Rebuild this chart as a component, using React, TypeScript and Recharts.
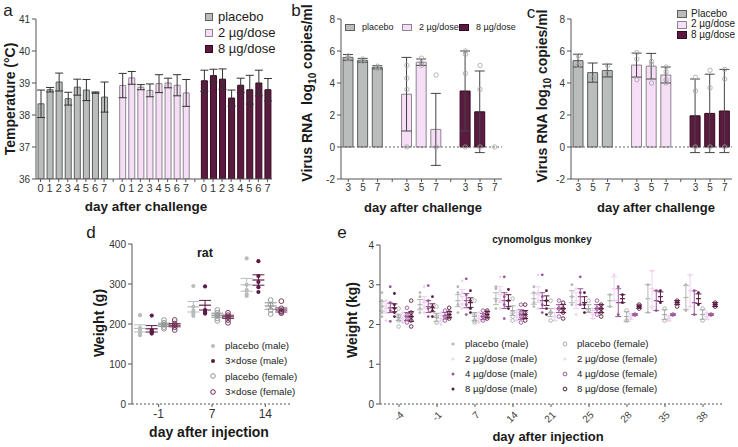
import React from "react"
import {
  BarChart, ComposedChart, ScatterChart, Bar, Line, Scatter, XAxis, YAxis,
  Cell, ErrorBar, ReferenceLine,
} from "recharts"

const FONT = '"Liberation Sans", Arial, Helvetica, sans-serif'
const AXIS = "#555"
const TICK = { fontSize: 10, fill: "#333", fontFamily: FONT }

// a: body temperature per day after challenge
const tempDays = [0, 1, 2, 3, 4, 5, 6, 7]
const tempPlacebo = [38.35, 38.79, 39.03, 38.51, 38.87, 38.78, 38.7, 38.56]
const tempPlaceboErr = [0.43, 0.07, 0.28, 0.2, 0.25, 0.33, 0.02, 0.47]
const temp2ug = [38.92, 39.16, 38.87, 38.77, 38.98, 39.0, 38.93, 38.69]
const temp2ugErr = [0.38, 0.2, 0.08, 0.2, 0.28, 0.15, 0.33, 0.42]
const temp8ug = [39.07, 39.23, 39.12, 38.53, 38.93, 38.79, 39.0, 38.79]
const temp8ugErr = [0.33, 0.2, 0.32, 0.25, 0.22, 0.45, 0.4, 0.35]

// b, c: viral RNA (log10 copies/ml)
const virusDays = [3, 5, 7]
const virusBPlacebo = [5.6, 5.42, 4.98]
const virusBPlaceboErr = [0.18, 0.12, 0.1]
const virusB2ug = [3.3, 5.3, 1.1]
const virusB2ugErr = [2.3, 0.2, 2.25]
const virusB8ug = [3.5, 2.2, 0]
const virusB8ugErr = [2.5, 2.55, 0]
const virusBPoints = [
  [[5.7, 5.55, 5.5], [5.5, 5.35], [5.05, 4.95, 4.9]],
  [[5.1, 4.3, 3.6, 0], [5.55, 5.25, 5.1], [4.5, 0]],
  [[6.0, 5.8, 4.6, 0], [5.1, 3.6, 0], [0]],
]
const virusCPlacebo = [5.4, 4.65, 4.78]
const virusCPlaceboErr = [0.4, 0.6, 0.4]
const virusC2ug = [5.12, 5.05, 4.5]
const virusC2ugErr = [0.75, 0.8, 0.5]
const virusC8ug = [1.95, 2.1, 2.25]
const virusC8ugErr = [2.3, 2.45, 2.6]
const virusCPoints = [
  [[5.7, 5.1], [4.3], [5.1, 4.6]],
  [[5.9, 5.5, 4.2], [5.35, 5.15, 4.0], [5.0, 4.7, 4.2, 4.0]],
  [[4.35, 3.5, 0], [4.8, 3.7, 0], [4.85, 4.25, 0]],
]

// d: rat weight (g)
const ratDays = ["-1", "7", "14"]
const ratPlaceboMale = [[222, 190, 185, 178, 172], [295, 243, 233, 226, 220], [364, 298, 285, 275, 270]]
const ratPlaceboMaleMean = [189, 243, 298]
const ratPlaceboMaleErr = [9, 13, 16]
const ratDoseMale = [[221, 185, 182, 178, 176], [294, 235, 230, 228, 226], [357, 320, 305, 292, 280]]
const ratDoseMaleMean = [188, 247, 310]
const ratDoseMaleErr = [8, 12, 13]
const ratPlaceboFemale = [[210, 203, 198, 192, 188], [235, 228, 222, 214, 208], [260, 248, 235, 225]]
const ratPlaceboFemaleMean = [198, 222, 245]
const ratPlaceboFemaleErr = [4, 5, 8]
const ratDoseFemale = [[210, 201, 197, 192, 185], [228, 222, 217, 210, 203], [257, 239, 232, 230, 227]]
const ratDoseFemaleMean = [197, 218, 235]
const ratDoseFemaleErr = [4, 4, 5]

// e: cynomolgus monkey weight (kg)
const monkeyDays = ["-4", "-1", "7", "14", "21", "25", "28", "35", "38"]
const mkPlaceboMaleMean = [2.46, 2.5, 2.6, 2.65, 2.65, 2.7, 2.6, 2.65, 2.68]
const mkPlaceboMaleErr = [0.12, 0.13, 0.15, 0.15, 0.14, 0.15, 0.15, 0.35, 0.3]
const mkPlaceboMale = [[2.8, 2.6, 2.45, 2.3, 2.2], [2.8, 2.7, 2.4, 2.3], [2.95, 2.8, 2.5, 2.3], [2.95, 2.9, 2.6, 2.4], [2.95, 2.8, 2.55, 2.45], [3.0, 2.7, 2.5], [2.75, 2.45], [3.0, 2.3], [3.0, 2.35]]
const mk2ugMaleMean = [2.4, 2.55, 2.7, 2.75, 2.75, 2.6, 2.9, 2.9, 2.85]
const mk2ugMaleErr = [0.12, 0.15, 0.18, 0.2, 0.2, 0.2, 0.3, 0.45, 0.4]
const mk2ugMale = [[2.6, 2.45, 2.3, 2.1], [2.95, 2.6, 2.45, 2.3], [3.1, 2.8, 2.5, 2.4], [3.2, 2.85, 2.6, 2.4], [3.25, 2.8, 2.6, 2.4], [2.9, 2.5, 2.25], [3.25, 2.6], [3.35, 2.4], [3.25, 2.45]]
const mk4ugMaleMean = [2.42, 2.45, 2.6, 2.6, 2.6, 2.7, 2.55, 2.6, 2.55]
const mk4ugMaleErr = [0.12, 0.15, 0.18, 0.2, 0.2, 0.2, 0.35, 0.25, 0.3]
const mk4ugMale = [[2.95, 2.55, 2.35, 2.08], [2.98, 2.6, 2.4, 2.2], [3.15, 2.75, 2.5, 2.25], [3.2, 2.7, 2.5, 2.15], [3.25, 2.7, 2.5, 2.3], [3.2, 2.8, 2.5], [2.95, 2.25], [2.85, 2.35], [2.85, 2.25]]
const mk8ugMaleMean = [2.42, 2.42, 2.55, 2.6, 2.6, 2.55, 2.65, 2.7, 2.65]
const mk8ugMaleErr = [0.1, 0.1, 0.12, 0.15, 0.12, 0.15, 0.1, 0.12, 0.12]
const mk8ugMale = [[2.78, 2.5, 2.4, 2.3, 2.2], [2.7, 2.45, 2.35, 2.2], [2.85, 2.6, 2.4, 2.3], [2.88, 2.6, 2.4], [2.85, 2.6, 2.4, 2.25], [2.8, 2.5, 2.3], [2.75, 2.55], [2.85, 2.55], [2.8, 2.5]]
const mkPlaceboFemaleMean = [2.18, 2.18, 2.2, 2.35, 2.3, 2.4, 2.2, 2.25, 2.25]
const mkPlaceboFemaleErr = [0.08, 0.1, 0.1, 0.12, 0.1, 0.1, 0.12, 0.12, 0.12]
const mkPlaceboFemale = [[2.4, 2.2, 2.1, 1.95], [2.45, 2.2, 2.05], [2.6, 2.25, 2.1, 2.05], [2.65, 2.3, 2.2, 2.1], [2.6, 2.3, 2.1], [2.6, 2.35], [2.35, 2.1], [2.4, 2.1], [2.4, 2.1]]
const mk2ugFemaleMean = [2.15, 2.15, 2.15, 2.2, 2.2, 2.25, 2.2, 2.15, 2.2]
const mk2ugFemaleErr = [0.08, 0.08, 0.08, 0.1, 0.1, 0.1, 0.08, 0.06, 0.08]
const mk2ugFemale = [[2.3, 2.15, 2.05], [2.3, 2.1, 2.0], [2.3, 2.15, 2.05], [2.35, 2.2, 2.1], [2.4, 2.2, 2.1], [2.4, 2.25, 2.15], [2.25, 2.15], [2.2, 2.1], [2.3, 2.15]]
const mk4ugFemaleMean = [2.2, 2.22, 2.2, 2.25, 2.4, 2.4, 2.25, 2.25, 2.25]
const mk4ugFemaleErr = [0.1, 0.08, 0.08, 0.12, 0.1, 0.1, 0.02, 0.02, 0.02]
const mk4ugFemale = [[2.42, 2.25, 2.15, 2.05], [2.35, 2.2, 2.1], [2.35, 2.2, 2.1], [2.5, 2.3, 2.2, 2.05], [2.6, 2.4, 2.2], [2.6, 2.4, 2.25], [2.25], [2.25], [2.25]]
const mk8ugFemaleMean = [2.2, 2.25, 2.25, 2.25, 2.4, 2.4, 2.45, 2.55, 2.5]
const mk8ugFemaleErr = [0.12, 0.08, 0.08, 0.1, 0.1, 0.1, 0.04, 0.05, 0.05]
const mk8ugFemale = [[2.6, 2.3, 2.2, 2.1, 1.95], [2.42, 2.3, 2.2, 2.15], [2.35, 2.3, 2.2, 2.15], [2.5, 2.3, 2.2, 2.1], [2.55, 2.4, 2.3, 2.15], [2.5, 2.4, 2.3, 2.2], [2.5, 2.45, 2.4], [2.6, 2.55, 2.45], [2.55, 2.5, 2.45]]

const GROUP_FILL = ["#b9bebc", "#f6def6", "#5b1a3f"]
const GROUP_STROKE = ["#5c5f5e", "#8e8490", "#36091f"]
const GROUP_NAMES = ["placebo", "2 µg/dose", "8 µg/dose"]

const GREY = "#b3b8b6"
const PINK = "#efd3ef"
const PURPLE = "#9a589a"
const MAROON = "#5a1a40"

function buildBarRows(days: number[], values: number[][], errs: number[][], pts?: number[][][]) {
  const rows: any[] = []
  values.forEach((vals, g) => {
    if (g > 0) rows.push({ label: "", group: -1 })
    days.forEach((d, i) => {
      const row: any = { label: String(d), v: vals[i], err: errs[g][i], group: g }
      const p = pts ? pts[g][i] : []
      for (let k = 0; k < 4; k++) row["p" + k] = p[k] ?? null
      rows.push(row)
    })
  })
  return rows
}

const tempRows = buildBarRows(tempDays, [tempPlacebo, temp2ug, temp8ug], [tempPlaceboErr, temp2ugErr, temp8ugErr])
const virusBRows = buildBarRows(virusDays, [virusBPlacebo, virusB2ug, virusB8ug], [virusBPlaceboErr, virusB2ugErr, virusB8ugErr], virusBPoints)
const virusCRows = buildBarRows(virusDays, [virusCPlacebo, virusC2ug, virusC8ug], [virusCPlaceboErr, virusC2ugErr, virusC8ugErr], virusCPoints)

const ratSeries = [
  { name: "placebo (male)", color: "#b8bcbc", open: false, pts: ratPlaceboMale, mean: ratPlaceboMaleMean, err: ratPlaceboMaleErr },
  { name: "3×dose (male)", color: "#5c1c44", open: false, pts: ratDoseMale, mean: ratDoseMaleMean, err: ratDoseMaleErr },
  { name: "placebo (female)", color: "#8e9392", open: true, pts: ratPlaceboFemale, mean: ratPlaceboFemaleMean, err: ratPlaceboFemaleErr },
  { name: "3×dose (female)", color: "#6b2a52", open: true, pts: ratDoseFemale, mean: ratDoseFemaleMean, err: ratDoseFemaleErr },
]
const RAT_OFFSETS = [-0.35, -0.13, 0.1, 0.3]

const monkeySeries = [
  { name: "placebo (male)", color: GREY, open: false, pts: mkPlaceboMale, mean: mkPlaceboMaleMean, err: mkPlaceboMaleErr },
  { name: "2 µg/dose (male)", color: PINK, open: false, pts: mk2ugMale, mean: mk2ugMaleMean, err: mk2ugMaleErr },
  { name: "4 µg/dose (male)", color: PURPLE, open: false, pts: mk4ugMale, mean: mk4ugMaleMean, err: mk4ugMaleErr },
  { name: "8 µg/dose (male)", color: MAROON, open: false, pts: mk8ugMale, mean: mk8ugMaleMean, err: mk8ugMaleErr },
  { name: "placebo (female)", color: "#a7adab", open: true, pts: mkPlaceboFemale, mean: mkPlaceboFemaleMean, err: mkPlaceboFemaleErr },
  { name: "2 µg/dose (female)", color: PINK, open: false, pts: mk2ugFemale, mean: mk2ugFemaleMean, err: mk2ugFemaleErr },
  { name: "4 µg/dose (female)", color: PURPLE, open: true, pts: mk4ugFemale, mean: mk4ugFemaleMean, err: mk4ugFemaleErr },
  { name: "8 µg/dose (female)", color: MAROON, open: true, pts: mk8ugFemale, mean: mk8ugFemaleMean, err: mk8ugFemaleErr },
]
const MONKEY_OFFSETS = [-0.45, -0.34, -0.23, -0.12, -0.01, 0.1, 0.21, 0.32]

const dotShape = (color: string, open: boolean, r: number) => (p: any) =>
  <circle cx={p.cx} cy={p.cy} r={r} fill={open ? "none" : color} stroke={color} strokeWidth={open ? 0.9 : 0} />

const meanShape = (color: string, half: number) => (p: any) =>
  <line x1={p.cx - half} x2={p.cx + half} y1={p.cy} y2={p.cy} stroke={color} strokeWidth={1.2} />

function Text({ x, y, size, bold, rotate, children }: any) {
  return (
    <div style={{
      position: "absolute", left: x, top: y, fontSize: size, fontWeight: bold ? 700 : 400,
      whiteSpace: "nowrap", lineHeight: 1,
      transform: `translate(-50%, -50%)${rotate ? " rotate(-90deg)" : ""}`,
    }}>{children}</div>
  )
}

function BoxKey({ x, y, w, h, g, size, gap, label }: any) {
  return (
    <div style={{ position: "absolute", left: x, top: y - h / 2, display: "flex", alignItems: "center", whiteSpace: "nowrap", fontSize: size, lineHeight: 1 }}>
      <span style={{ display: "inline-block", width: w, height: h, boxSizing: "border-box", background: GROUP_FILL[g], border: `1px solid ${GROUP_STROKE[g]}`, marginRight: gap }} />
      <span style={{ marginTop: -1 }}>{label}</span>
    </div>
  )
}

function DotKey({ x, y, color, open, r, size, label }: any) {
  return (
    <div style={{ position: "absolute", left: x - 5, top: y - 6, height: 12, display: "flex", alignItems: "center", whiteSpace: "nowrap", fontSize: size, lineHeight: 1 }}>
      <svg width={10} height={12} style={{ marginRight: 7 }}>
        <circle cx={5} cy={6} r={r} fill={open ? "none" : color} stroke={color} strokeWidth={open ? 1 : 0} />
      </svg>
      <span>{label}</span>
    </div>
  )
}

function barCells(rows: any[]) {
  return rows.map((r, i) => (
    <Cell key={i} fill={r.group >= 0 ? GROUP_FILL[r.group] : "none"} stroke={r.group >= 0 ? GROUP_STROKE[r.group] : "none"} strokeWidth={1} />
  ))
}

function VirusChart({ rows }: { rows: any[] }) {
  return (
    <ComposedChart width={212} height={220} data={rows} margin={{ top: 19, right: 0, bottom: 21, left: 0 }}>
      <XAxis dataKey="label" interval={0} tick={TICK} tickSize={3} stroke={AXIS} height={20} />
      <YAxis type="number" domain={[-2, 8]} ticks={[-2, 0, 2, 4, 6, 8]} allowDataOverflow width={51} tick={TICK} tickSize={4} stroke={AXIS} />
      <ReferenceLine y={0} stroke="#666" strokeDasharray="2 2" />
      <Bar dataKey="v" barSize={10} isAnimationActive={false}>
        {barCells(rows)}
        <ErrorBar dataKey="err" width={5} stroke="#444" strokeWidth={1} direction="y" />
      </Bar>
      {[0, 1, 2, 3].map((k) => (
        <Line key={k} dataKey={"p" + k} stroke="none" activeDot={false} legendType="none" isAnimationActive={false}
          dot={{ r: 2.2, fill: "none", stroke: "#a3a3a3", strokeWidth: 0.8 }} />
      ))}
    </ComposedChart>
  )
}

const RotTick = (p: any) => (
  <g transform={`translate(${p.x + 3},${p.y + 4}) rotate(-45)`}>
    <text x={0} y={0} dy="0.35em" textAnchor="end" fontSize={10} fill="#444" fontFamily={FONT}>{monkeyDays[p.payload.value]}</text>
  </g>
)

export default function App() {
  return (
    <div style={{ position: "absolute", left: 0, top: 0, width: 738, height: 447, background: "#fff", fontFamily: FONT, color: "#1a1a1a", overflow: "hidden" }}>
      {/* a */}
      <div style={{ position: "absolute", left: 0, top: 0 }}>
        <BarChart width={290} height={220} data={tempRows} margin={{ top: 19, right: 18, bottom: 21, left: 0 }}>
          <XAxis dataKey="label" interval={0} tick={{ ...TICK, fontSize: 11 }} tickSize={3} stroke={AXIS} height={20} />
          <YAxis type="number" domain={[36, 41]} ticks={[36, 37, 38, 39, 40, 41]} allowDataOverflow width={36} tick={TICK} tickSize={4} stroke={AXIS} />
          <Bar dataKey="v" barSize={6} isAnimationActive={false}>
            {barCells(tempRows)}
            <ErrorBar dataKey="err" width={4} stroke="#333" strokeWidth={1} direction="y" />
          </Bar>
        </BarChart>
      </div>
      <Text x={8} y={10} size={17}>a</Text>
      <Text x={10} y={99} size={14} bold rotate>Temperature (°C)</Text>
      <Text x={146} y={207} size={13.5} bold>day after challenge</Text>
      {GROUP_NAMES.map((n, g) => <BoxKey key={n} x={205} y={15 + g * 16} w={8} h={8} g={g} size={13} gap={5} label={n} />)}

      {/* b */}
      <div style={{ position: "absolute", left: 290, top: 0 }}>
        <VirusChart rows={virusBRows} />
      </div>
      <Text x={296} y={10} size={17}>b</Text>
      <Text x={309} y={93} size={14} bold rotate>Virus RNA&nbsp; log<sub style={{ fontSize: 10 }}>10</sub> copies/ml</Text>
      <Text x={423} y={207} size={13} bold>day after challenge</Text>
      {GROUP_NAMES.map((n, g) => <BoxKey key={n} x={345 + g * 57} y={27} w={10} h={7} g={g} size={9} gap={7} label={n} />)}

      {/* c */}
      <div style={{ position: "absolute", left: 520, top: 0 }}>
        <VirusChart rows={virusCRows} />
      </div>
      <Text x={531} y={12} size={17}>c</Text>
      <Text x={544} y={96} size={14} bold rotate>Virus RNA log<sub style={{ fontSize: 10 }}>10</sub> copies/ml</Text>
      <Text x={656} y={207} size={13} bold>day after challenge</Text>
      {["Placebo", "2 µg/dose", "8 µg/dose"].map((n, g) => <BoxKey key={n} x={677} y={13.5 + g * 10.5} w={10} h={8} g={g} size={10} gap={4} label={n} />)}

      {/* d */}
      <div style={{ position: "absolute", left: 90, top: 225 }}>
        <ScatterChart width={210} height={222} margin={{ top: 19, right: 8, bottom: 18, left: 0 }}>
          <XAxis type="number" dataKey="x" domain={[-0.5, 2.5]} ticks={[0, 1, 2]} allowDataOverflow
            tickFormatter={(i: number) => ratDays[i]} tick={{ ...TICK, fontSize: 12 }} tickSize={3}
            axisLine={{ stroke: AXIS, strokeDasharray: "2 2" }} tickLine={{ stroke: AXIS }} height={25} />
          <YAxis type="number" dataKey="y" domain={[0, 400]} ticks={[0, 100, 200, 300, 400]} allowDataOverflow width={42} tick={TICK} tickSize={4} stroke={AXIS} />
          {ratSeries.map((s, si) => (
            <Scatter key={"p" + si} isAnimationActive={false}
              data={s.pts.flatMap((list, di) => list.map((y) => ({ x: di + RAT_OFFSETS[si], y })))}
              shape={dotShape(s.color, s.open, s.open ? 2.4 : 2.1)} />
          ))}
          {ratSeries.map((s, si) => (
            <Scatter key={"m" + si} isAnimationActive={false}
              data={s.mean.map((y, di) => ({ x: di + RAT_OFFSETS[si], y, err: s.err[di] }))}
              shape={meanShape(s.color, 6)}>
              <ErrorBar dataKey="err" direction="y" width={6} stroke={s.color} strokeWidth={1} />
            </Scatter>
          ))}
        </ScatterChart>
      </div>
      <Text x={91} y={232} size={17}>d</Text>
      <Text x={205} y={253} size={12.5} bold>rat</Text>
      <Text x={99} y={323} size={14} bold rotate>Weight (g)</Text>
      <Text x={209} y={432} size={14} bold>day after injection</Text>
      {ratSeries.map((s, i) => <DotKey key={s.name} x={213} y={346 + i * 15.2} color={s.color} open={s.open} r={s.open ? 2.3 : 2} size={9.7} label={s.name} />)}

      {/* e */}
      <div style={{ position: "absolute", left: 330, top: 225 }}>
        <ScatterChart width={400} height={222} margin={{ top: 20, right: 8, bottom: 18, left: 0 }}>
          <XAxis type="number" dataKey="x" domain={[-0.5, 8.5]} ticks={[0, 1, 2, 3, 4, 5, 6, 7, 8]} allowDataOverflow
            tick={RotTick} tickSize={3} axisLine={{ stroke: AXIS, strokeDasharray: "2 2" }} tickLine={{ stroke: AXIS }} height={25} />
          <YAxis type="number" dataKey="y" domain={[0, 4]} ticks={[0, 1, 2, 3, 4]} allowDataOverflow width={50} tick={TICK} tickSize={4} stroke={AXIS} />
          {monkeySeries.map((s, si) => (
            <Scatter key={"p" + si} isAnimationActive={false}
              data={s.pts.flatMap((list, di) => list.map((y) => ({ x: di + MONKEY_OFFSETS[si], y })))}
              shape={dotShape(s.color, s.open, s.open ? 1.8 : 1.4)} />
          ))}
          {monkeySeries.map((s, si) => (
            <Scatter key={"m" + si} isAnimationActive={false}
              data={s.mean.map((y, di) => ({ x: di + MONKEY_OFFSETS[si], y, err: s.err[di] }))}
              shape={meanShape(s.color, 2.5)}>
              <ErrorBar dataKey="err" direction="y" width={3} stroke={s.color} strokeWidth={1} />
            </Scatter>
          ))}
        </ScatterChart>
      </div>
      <Text x={342} y={232} size={17}>e</Text>
      <Text x={542} y={240} size={10} bold>cynomolgus monkey</Text>
      <Text x={352} y={320} size={14} bold rotate>Weight (kg)</Text>
      <Text x={548} y={436} size={13} bold>day after injection</Text>
      {monkeySeries.map((s, i) => (
        <DotKey key={s.name} x={i < 4 ? 453 : 565} y={344 + (i % 4) * 15} color={s.color} open={s.open}
          r={s.open ? 1.9 : 1.5} size={9.6} label={s.name} />
      ))}
    </div>
  )
}
